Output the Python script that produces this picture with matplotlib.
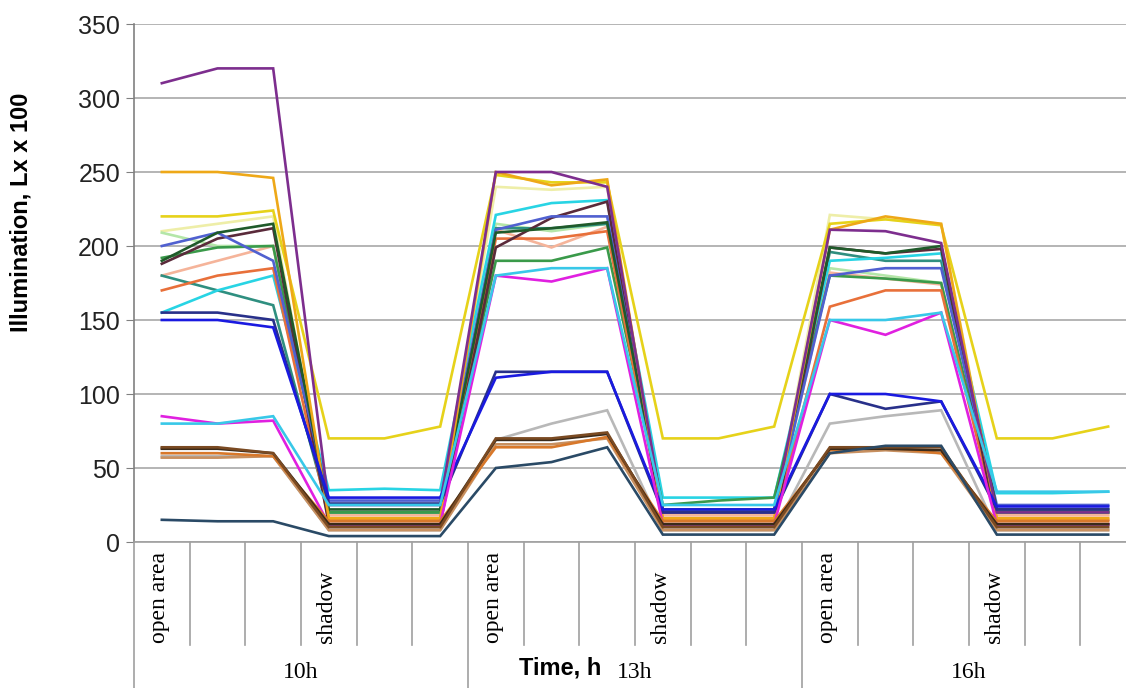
import numpy as np
import matplotlib
matplotlib.use('Agg')
import matplotlib.pyplot as plt
import matplotlib.transforms as mtransforms

# 18 measuring points: 3 times x (3 open area + 3 shadow)
groups = ['10h', '13h', '16h']
cat_labels = ['open area', '', '', 'shadow', '', ''] * 3

# illumination, Lx x 100 (one list per measured plant / site)
purple = [310, 320, 320, 25, 25, 25, 250, 250, 240, 20, 20, 20, 211, 210, 202, 20, 20, 20]
gold = [250, 250, 246, 16, 16, 16, 250, 241, 245, 16, 16, 16, 211, 220, 215, 16, 16, 16]
yellow = [220, 220, 224, 70, 70, 78, 248, 243, 243, 70, 70, 78, 215, 218, 214, 70, 70, 78]
pale_yellow = [210, 215, 220, 18, 18, 18, 240, 238, 240, 18, 18, 18, 221, 218, 215, 18, 18, 18]
dark_green = [190, 209, 215, 22, 22, 22, 209, 212, 216, 22, 22, 22, 199, 195, 200, 22, 22, 22]
green = [192, 199, 200, 20, 20, 20, 190, 190, 199, 25, 28, 30, 180, 178, 175, 20, 20, 20]
blueviolet = [200, 209, 190, 28, 28, 28, 211, 220, 220, 20, 20, 20, 180, 185, 185, 25, 25, 25]
maroon = [188, 205, 212, 12, 12, 12, 199, 219, 230, 12, 12, 12, 199, 195, 198, 12, 12, 12]
cyan = [155, 170, 180, 35, 36, 35, 221, 229, 231, 30, 30, 30, 190, 192, 195, 33, 33, 34]
teal = [180, 170, 160, 20, 20, 20, 212, 212, 215, 20, 20, 20, 196, 190, 190, 20, 20, 20]
light_green = [209, 200, 200, 20, 20, 20, 215, 210, 215, 20, 20, 20, 185, 180, 175, 20, 20, 20]
salmon = [180, 190, 200, 18, 18, 18, 211, 199, 213, 18, 18, 18, 182, 178, 174, 18, 18, 18]
orange_red = [170, 180, 185, 15, 15, 15, 205, 205, 210, 15, 15, 15, 159, 170, 170, 15, 15, 15]
navy = [155, 155, 150, 26, 26, 26, 115, 115, 115, 20, 20, 20, 100, 90, 95, 22, 22, 22]
blue = [150, 150, 145, 30, 30, 30, 111, 115, 115, 22, 22, 22, 100, 100, 95, 24, 24, 24]
magenta = [85, 80, 82, 12, 12, 12, 180, 176, 185, 12, 12, 12, 150, 140, 155, 12, 12, 12]
sky = [80, 80, 85, 25, 25, 25, 180, 185, 185, 25, 25, 25, 150, 150, 155, 34, 34, 34]
brown = [64, 64, 60, 10, 10, 10, 70, 70, 74, 10, 10, 10, 64, 64, 64, 10, 10, 10]
black = [63, 63, 60, 12, 12, 12, 69, 69, 73, 12, 12, 12, 63, 63, 62, 12, 12, 12]
orange = [60, 60, 58, 14, 14, 14, 64, 64, 71, 14, 14, 14, 62, 64, 60, 14, 14, 14]
tan = [57, 57, 58, 8, 8, 8, 66, 66, 70, 8, 8, 8, 60, 62, 60, 8, 8, 8]
gray = [58, 58, 58, 8, 8, 8, 69, 80, 89, 8, 8, 8, 80, 85, 89, 8, 8, 8]
slate = [15, 14, 14, 4, 4, 4, 50, 54, 64, 5, 5, 5, 60, 65, 65, 5, 5, 5]

series = [
    (pale_yellow, '#eeeea8'), (light_green, '#b4e6a8'), (salmon, '#f5b49a'),
    (teal, '#2f8f80'), (cyan, '#28d4e4'), (green, '#3a9a4a'),
    (orange_red, '#e8703a'), (maroon, '#5a2a3a'), (blueviolet, '#5060d0'),
    (dark_green, '#1f5a2a'), (yellow, '#e6d21a'), (gold, '#eea818'),
    (purple, '#7d2e8e'), (navy, '#28308a'), (blue, '#1a1ae0'),
    (magenta, '#e020e0'), (sky, '#38c8e8'), (gray, '#b8b8b8'),
    (tan, '#c89060'), (orange, '#d8782a'), (black, '#3a2a1a'),
    (brown, '#7a4a22'), (slate, '#2a4a66'),
]

W, H = 1126, 688
fig = plt.figure(figsize=(W / 100, H / 100), dpi=100)
ax = fig.add_axes([134 / W, 1 - 542 / H, (1136 - 134) / W, 518 / H])

x = np.arange(18)
for vals, col in series:
    ax.plot(x, vals, color=col, lw=1.9, solid_joinstyle='miter')

ax.set_xlim(-0.5, 17.5)
ax.set_ylim(0, 350)
ax.set_yticks(np.arange(0, 351, 50))
ax.yaxis.grid(True, color='#a8a8a8', lw=1.2)
ax.set_axisbelow(True)
ax.tick_params(axis='y', direction='out', length=6, color='#808080', labelsize=18, pad=4)
for lab in ax.get_yticklabels():
    lab.set_family('Liberation Sans')
    lab.set_color('#222222')
ax.set_xticks([])
for s in ['top', 'right']:
    ax.spines[s].set_visible(False)
ax.spines['left'].set_color('#808080')
ax.spines['left'].set_linewidth(1.2)
ax.spines['bottom'].set_color('#a0a0a0')
ax.spines['bottom'].set_linewidth(1.2)

# category axis below the plot
trans = mtransforms.blended_transform_factory(ax.transData, ax.transAxes)
y_short = -(645 - 542) / 518
y_long = -(688 - 542) / 518
for k in range(18):
    xb = k - 0.5
    ylow = y_long if k % 6 == 0 else y_short
    ax.plot([xb, xb], [0, ylow], transform=trans, color='#a0a0a0', lw=1.2, clip_on=False)
    if cat_labels[k]:
        ax.text(k - 0.05, -(643 - 542) / 518, cat_labels[k], transform=trans, rotation=90,
                ha='center', va='bottom', fontsize=17, family='Liberation Serif')
for g, name in enumerate(groups):
    ax.text(g * 6 + 2.5, -(673 - 542) / 518, name, transform=trans, ha='center',
            va='center', fontsize=17, family='Liberation Serif')

ax.text((560 - 134) / 1002, -(668 - 542) / 518, 'Time, h', transform=ax.transAxes,
        ha='center', va='center', fontsize=17, fontweight='bold', family='Liberation Sans')
fig.text(21 / W, 1 - 212 / H, 'Illumination, Lx x 100', rotation=90, ha='center',
         va='center', fontsize=17, fontweight='bold', family='Liberation Sans')

fig.savefig('out.png', dpi=100)
